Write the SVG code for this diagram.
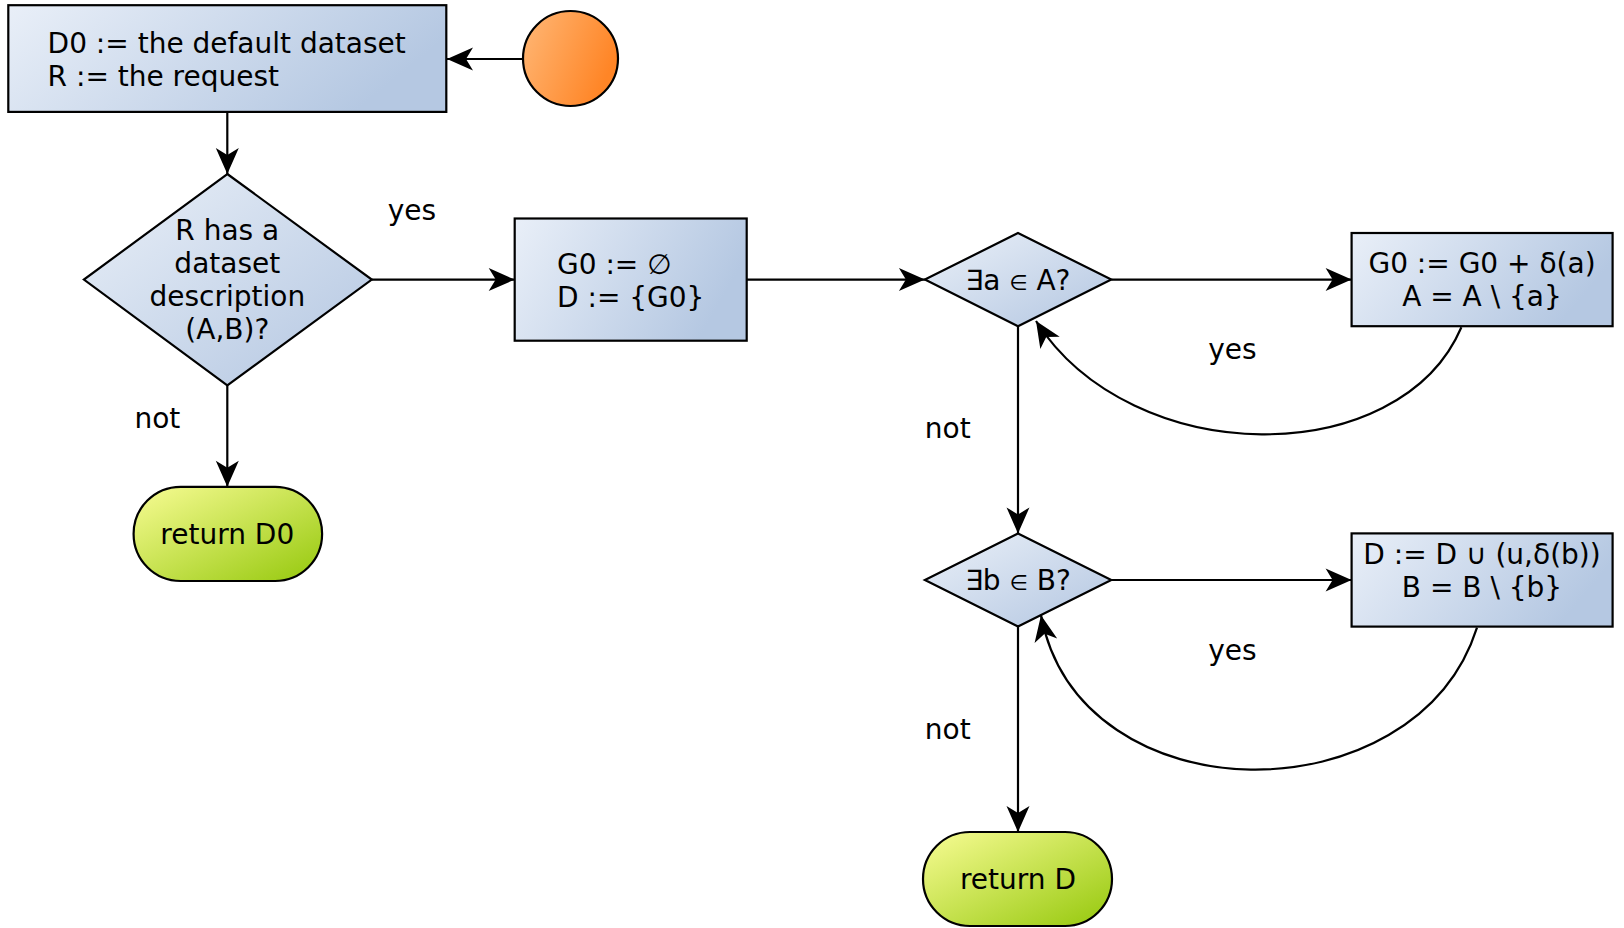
<svg xmlns="http://www.w3.org/2000/svg" width="1624" height="928" viewBox="0 0 1624 928">
<defs>
<linearGradient id="gBox" x1="0" y1="0" x2="1" y2="0.3">
<stop offset="0" stop-color="#e9eff8"/>
<stop offset="1" stop-color="#b5c8e2"/>
</linearGradient>
<linearGradient id="gDia" x1="0" y1="0" x2="1" y2="1">
<stop offset="0" stop-color="#eaf0f8"/>
<stop offset="1" stop-color="#b3c6e1"/>
</linearGradient>
<linearGradient id="gTerm" x1="0" y1="0" x2="1" y2="1">
<stop offset="0" stop-color="#f8fc94"/>
<stop offset="1" stop-color="#95c80c"/>
</linearGradient>
<linearGradient id="gStart" x1="0" y1="0" x2="1" y2="0.4">
<stop offset="0" stop-color="#ffb877"/>
<stop offset="1" stop-color="#ff8526"/>
</linearGradient>
<marker id="arr" markerUnits="userSpaceOnUse" markerWidth="30" markerHeight="26" viewBox="-27 -13 28 26" refX="0" refY="0" orient="auto">
<path d="M0,0 L-26,-11.5 L-19,0 L-26,11.5 Z" fill="#000"/>
</marker>
<style>
.node{stroke:#000;stroke-width:2.2}
.t{font-family:"DejaVu Sans",sans-serif;font-size:28px;fill:#000}
.c{text-anchor:middle}
.sm{font-size:21px}
.edge{fill:none;stroke:#000;stroke-width:2.2;marker-end:url(#arr)}
</style>
</defs>
<rect width="1624" height="928" fill="#fff"/>
<g id="connectors">
<line class="edge" x1="523" y1="59" x2="447" y2="59"/>
<line class="edge" x1="227.3" y1="112" x2="227.3" y2="174"/>
<line class="edge" x1="372" y1="279.6" x2="514.7" y2="279.6"/>
<line class="edge" x1="227.3" y1="385.3" x2="227.3" y2="486.8"/>
<line class="edge" x1="746.7" y1="279.6" x2="924.9" y2="279.6"/>
<line class="edge" x1="1111.3" y1="279.6" x2="1351.6" y2="279.6"/>
<line class="edge" x1="1018" y1="326.2" x2="1018" y2="533.4"/>
<line class="edge" x1="1111.3" y1="580" x2="1351.6" y2="580"/>
<line class="edge" x1="1018" y1="626.6" x2="1018" y2="832"/>
<path class="edge" d="M1461.4,327.3 C1400,471 1132,471 1036,321"/>
<path class="edge" d="M1477,627.6 C1416,819 1080,819 1041,615.2"/>
<text class="t c" x="412" y="219.5">yes</text>
<text class="t c" x="157.4" y="427.7">not</text>
<text class="t c" x="1232.5" y="359.4">yes</text>
<text class="t c" x="947.7" y="438">not</text>
<text class="t c" x="1232.5" y="659.7">yes</text>
<text class="t c" x="947.7" y="738.5">not</text>
</g>
<g id="start">
<circle class="node" cx="570.5" cy="58.5" r="47.5" fill="url(#gStart)"/>
</g>
<g id="init">
<rect class="node" x="8.3" y="5.2" width="438" height="106.7" fill="url(#gBox)"/>
<text class="t" x="47.6" y="53">D0 := the default dataset</text>
<text class="t" x="47.6" y="86">R := the request</text>
</g>
<g id="hasDesc">
<polygon class="node" points="227.3,174 371.8,279.6 227.3,385.3 83.9,279.6" fill="url(#gDia)"/>
<text class="t c" x="227.3" y="240">R has a</text>
<text class="t c" x="227.3" y="273">dataset</text>
<text class="t c" x="227.3" y="306">description</text>
<text class="t c" x="227.3" y="339">(A,B)?</text>
</g>
<g id="returnD0">
<rect class="node" x="133.6" y="486.8" width="188.5" height="94.2" rx="47" ry="47" fill="url(#gTerm)"/>
<text class="t c" x="227.3" y="544">return D0</text>
</g>
<g id="initG0">
<rect class="node" x="514.7" y="218.5" width="232" height="122.2" fill="url(#gBox)"/>
<text class="t" x="557" y="274">G0 := ∅</text>
<text class="t" x="557" y="306.5">D := {G0}</text>
</g>
<g id="existsA">
<polygon class="node" points="1018,233 1111.3,279.6 1018,326.2 924.9,279.6" fill="url(#gDia)"/>
<text class="t c" x="1018" y="290">∃a <tspan class="sm">∈</tspan> A?</text>
</g>
<g id="addA">
<rect class="node" x="1351.6" y="233" width="261" height="93.2" fill="url(#gBox)"/>
<text class="t c" x="1482" y="273">G0 := G0 + δ(a)</text>
<text class="t c" x="1482" y="306">A = A \ {a}</text>
</g>
<g id="existsB">
<polygon class="node" points="1018,533.4 1111.3,580 1018,626.6 924.9,580" fill="url(#gDia)"/>
<text class="t c" x="1018" y="590">∃b <tspan class="sm">∈</tspan> B?</text>
</g>
<g id="addB">
<rect class="node" x="1351.6" y="533.4" width="261" height="93.2" fill="url(#gBox)"/>
<text class="t c" x="1482" y="563.5">D := D ∪ (u,δ(b))</text>
<text class="t c" x="1482" y="596.5">B = B \ {b}</text>
</g>
<g id="returnD">
<rect class="node" x="923" y="832" width="189" height="94" rx="47" ry="47" fill="url(#gTerm)"/>
<text class="t c" x="1018" y="889">return D</text>
</g>
</svg>
